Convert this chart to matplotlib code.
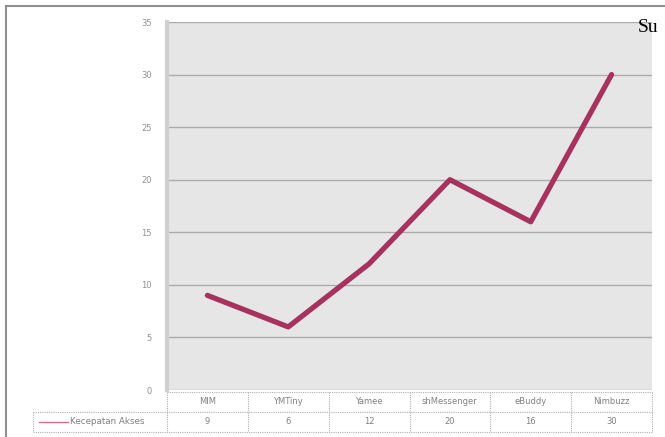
import matplotlib.pyplot as plt
from matplotlib.transforms import blended_transform_factory

apps = ['MIM', 'YMTiny', 'Yamee', 'shMessenger', 'eBuddy', 'Nimbuzz']
kecepatan = [9, 6, 12, 20, 16, 30]
series_name = 'Kecepatan Akses'
y_ticks = [0, 5, 10, 15, 20, 25, 30, 35]

W, H = 665, 437
fig = plt.figure(figsize=(W / 100, H / 100), dpi=100)
fig.patch.set_facecolor('white')

# outer chart frame
fig.add_artist(plt.Line2D([6 / W, 6 / W], [0, 1 - 6 / H], transform=fig.transFigure,
                          color='#909090', lw=1.5))
fig.add_artist(plt.Line2D([6 / W, 1], [1 - 6 / H, 1 - 6 / H], transform=fig.transFigure,
                          color='#909090', lw=1.5))

left, right, top, bottom = 167, 652, 22, 390
ax = fig.add_axes([left / W, 1 - bottom / H, (right - left) / W, (bottom - top) / H])
ax.set_facecolor('#e6e6e6')
x = list(range(len(apps)))
ax.plot(x, kecepatan, color='#a8325e', lw=3.8, solid_capstyle='round', zorder=3)
ax.set_xlim(-0.5, len(apps) - 0.5)
ax.set_ylim(0, 35)
ax.set_yticks(y_ticks)
ax.set_yticklabels([str(t) for t in y_ticks], fontsize=6, color='#909090')
ax.tick_params(axis='y', length=0, pad=11)
ax.set_xticks([])
ax.yaxis.grid(True, color='#ababab', lw=1)
ax.set_axisbelow(True)
for s in ['top', 'right', 'bottom']:
    ax.spines[s].set_visible(False)
ax.spines['left'].set_color('#d0d0d0')
ax.spines['left'].set_linewidth(3)

# data table below the plot
tr = blended_transform_factory(ax.transData, fig.transFigure)
def fy(px):
    return 1 - px / H

r0, r1, r2 = 392, 412, 432
lc = '#b0b0b0'
n = len(apps)
col_w = (right - left) / n
legend_left = -0.5 - (left - 33) / col_w
for yy, x0 in [(r0, -0.5), (r1, legend_left), (r2, legend_left)]:
    ax.plot([x0, n - 0.5], [fy(yy), fy(yy)], transform=tr, color=lc, lw=0.8,
            ls=(0, (1, 1)), clip_on=False)
for i in range(n + 1):
    ax.plot([i - 0.5, i - 0.5], [fy(r0), fy(r2)], transform=tr, color=lc, lw=0.8,
            ls=(0, (1, 1)), clip_on=False)
ax.plot([legend_left, legend_left], [fy(r1), fy(r2)], transform=tr, color=lc, lw=0.8,
        ls=(0, (1, 1)), clip_on=False)
for i, (name, v) in enumerate(zip(apps, kecepatan)):
    ax.text(i, fy((r0 + r1) / 2), name, transform=tr, ha='center', va='center',
            fontsize=6, color='#808080')
    ax.text(i, fy((r1 + r2) / 2), str(v), transform=tr, ha='center', va='center',
            fontsize=6, color='#808080')
ax.plot([legend_left + 6 / col_w, legend_left + 35 / col_w], [fy((r1 + r2) / 2)] * 2,
        transform=tr, color='#d07090', lw=1, clip_on=False)
ax.text(legend_left + 37 / col_w, fy((r1 + r2) / 2), series_name, transform=tr,
        ha='left', va='center', fontsize=6.3, color='#808080')

fig.text(638 / W, 1 - 28 / H, 'Su', fontsize=14, family='Liberation Serif',
         color='black', va='center', ha='left')

fig.savefig('out.png', dpi=100)
